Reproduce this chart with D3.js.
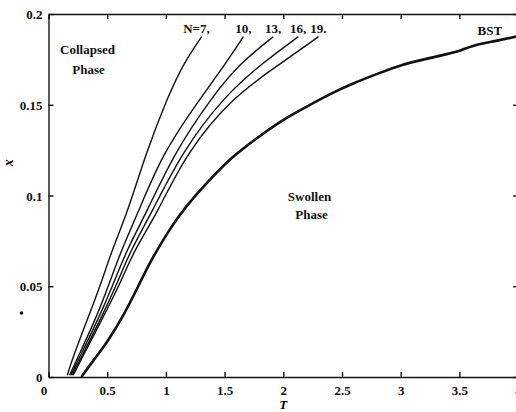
<!DOCTYPE html>
<meta charset="utf-8">
<style>
body { margin: 0; background: #fff; }
.axis text { font: bold 13px "Liberation Serif", serif; fill: #111; }
.axis path, .axis line { stroke: #111; stroke-width: 1.4; }
.lbl { font: bold 13px "Liberation Serif", serif; fill: #111; }
</style>
<body>
<div id="chart"></div>
<script src="https://d3js.org/d3.v7.min.js"></script>
<script>
var xLevels = [0.001, 0.0094, 0.0332, 0.05, 0.07, 0.09, 0.1234, 0.155, 0.1728, 0.1875];
// temperature T of each curve at those levels
var tN7  = [0.16, 0.20, 0.34, 0.44, 0.54, 0.67, 0.83, 1.02, 1.15, 1.305];
var tN10 = [0.18, 0.24, 0.41, 0.51, 0.62, 0.76, 0.97, 1.31, 1.51, 1.66];
var tN13 = [0.19, 0.254, 0.433, 0.545, 0.666, 0.83, 1.07, 1.40, 1.63, 1.915];
var tN16 = [0.20, 0.268, 0.453, 0.575, 0.70, 0.875, 1.13, 1.50, 1.82, 2.128];
var tN19 = [0.21, 0.277, 0.467, 0.60, 0.73, 0.925, 1.17, 1.58, 1.98, 2.30];
var nLabels = ["N=7,", "10,", "13,", "16,", "19."];

// bulk (BST) line
var bstT = [0.28, 0.38, 0.5, 0.64, 0.75, 0.87, 1.0, 1.1, 1.25, 1.4, 1.55, 1.77, 2.0, 2.2, 2.4, 2.6, 2.8, 3.0, 3.2, 3.4, 3.5, 3.6, 3.8, 4.0];
var bstX = [0, 0.009, 0.019, 0.034, 0.048, 0.064, 0.078, 0.088, 0.1, 0.1105, 0.1205, 0.1315, 0.142, 0.149, 0.156, 0.162, 0.167, 0.172, 0.175, 0.178, 0.1795, 0.1825, 0.185, 0.1878];

var xTicks = [0, 0.5, 1, 1.5, 2, 2.5, 3, 3.5, 4];
var yTicks = [0, 0.05, 0.1, 0.15, 0.2];

var margin = {top: 14, left: 48.5},
    width = 469.6,
    height = 363;

var x = d3.scaleLinear().domain([0, 4]).range([0, width]);
var y = d3.scaleLinear().domain([0, 0.2]).range([height, 0]);

var svg = d3.select("#chart").append("svg")
    .attr("width", 516)
    .attr("height", 412)
  .append("g")
    .attr("transform", "translate(" + margin.left + "," + margin.top + ")");

var fmt = function(d) { return d === 0 ? "0" : String(d); };

// bottom axis, ticks pointing in
var xb = svg.append("g").attr("class", "axis")
    .attr("transform", "translate(0," + height + ")")
    .call(d3.axisBottom(x).tickValues(xTicks).tickFormat(fmt).tickSize(-5).tickSizeOuter(0).tickPadding(9));
xb.selectAll(".tick").filter(function(d) { return d === 0; }).select("text").attr("dx", "-5");

// top axis, ticks only
svg.append("g").attr("class", "axis")
    .call(d3.axisTop(x).tickValues(xTicks).tickFormat("").tickSize(-5).tickSizeOuter(0));

svg.append("g").attr("class", "axis")
    .call(d3.axisLeft(y).tickValues(yTicks).tickFormat(fmt).tickSize(-5).tickSizeOuter(0).tickPadding(6))
    .selectAll("text").attr("dy", "0.36em");

svg.append("g").attr("class", "axis")
    .attr("transform", "translate(" + width + ",0)")
    .call(d3.axisRight(y).tickValues(yTicks).tickFormat("").tickSize(-5).tickSizeOuter(0));

var line = d3.line()
    .x(function(d) { return x(d[0]); })
    .y(function(d) { return y(d[1]); })
    .curve(d3.curveBasis);

var finite = [tN7, tN10, tN13, tN16, tN19].map(function(ts) {
  return ts.map(function(t, i) { return [t, xLevels[i]]; });
});

svg.selectAll(".nline")
    .data(finite)
  .enter().append("path")
    .attr("class", "nline")
    .attr("d", line)
    .attr("fill", "none")
    .attr("stroke", "#111")
    .attr("stroke-width", 1.4);

svg.selectAll(".nlabel")
    .data(finite)
  .enter().append("text")
    .attr("class", "lbl")
    .attr("x", function(d) { return x(d[d.length - 1][0]) + 8; })
    .attr("y", 19)
    .attr("text-anchor", "end")
    .text(function(d, i) { return nLabels[i]; });

var bst = bstT.map(function(t, i) { return [t, bstX[i]]; });

svg.append("path")
    .datum(bst)
    .attr("d", line)
    .attr("fill", "none")
    .attr("stroke", "#111")
    .attr("stroke-width", 2.6);

svg.append("text").attr("class", "lbl")
    .attr("x", 429).attr("y", 21)
    .text("BST");

svg.append("text").attr("class", "lbl")
    .attr("x", 39).attr("y", 40).attr("text-anchor", "middle")
    .text("Collapsed");
svg.append("text").attr("class", "lbl")
    .attr("x", 40).attr("y", 60).attr("text-anchor", "middle")
    .text("Phase");

svg.append("text").attr("class", "lbl")
    .attr("x", 261).attr("y", 187).attr("text-anchor", "middle")
    .text("Swollen");
svg.append("text").attr("class", "lbl")
    .attr("x", 263).attr("y", 205).attr("text-anchor", "middle")
    .text("Phase");

// axis titles
svg.append("text")
    .attr("x", x(2)).attr("y", height + 32)
    .attr("text-anchor", "middle")
    .style("font", "italic bold 13px 'Liberation Serif', serif")
    .text("T");

svg.append("text")
    .attr("transform", "translate(" + (-36) + "," + (y(0.118)) + ") rotate(-90)")
    .attr("text-anchor", "middle")
    .style("font", "italic bold 14px 'Liberation Serif', serif")
    .text("x");

svg.append("circle")
    .attr("cx", -27).attr("cy", 299)
    .attr("r", 1.8)
    .attr("fill", "#111");
</script>
</body>
